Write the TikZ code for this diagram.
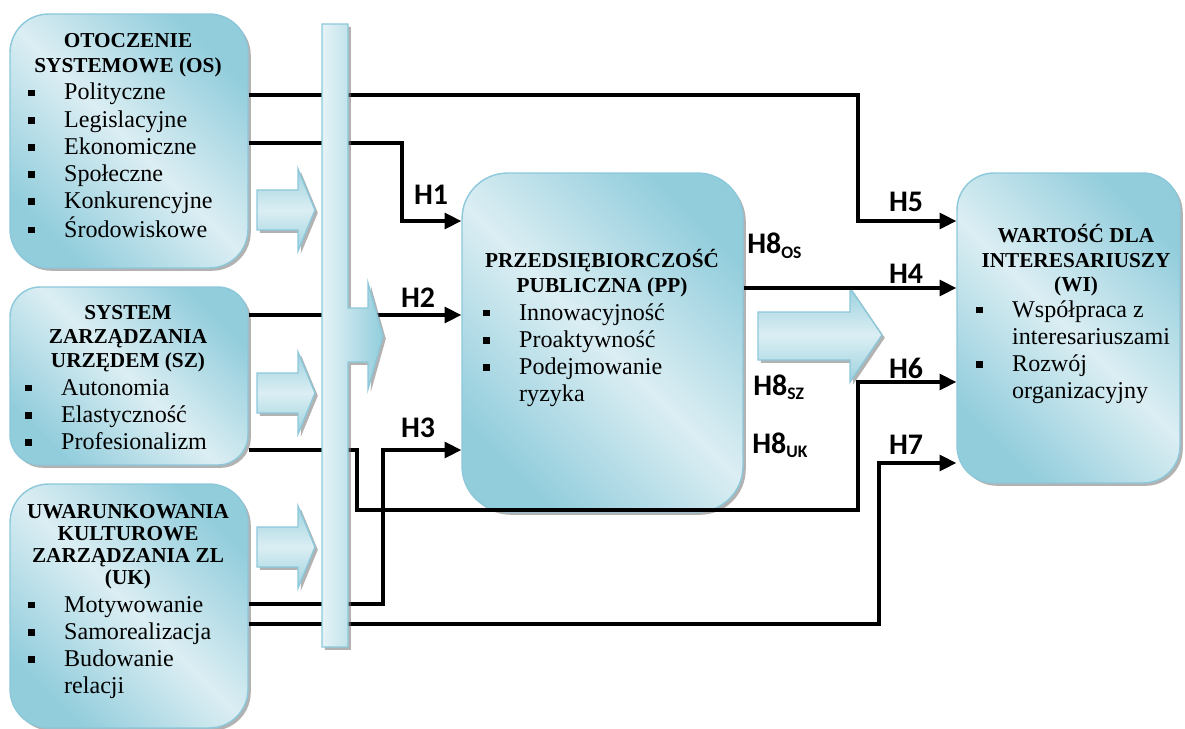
\documentclass[tikz,border=0pt]{standalone}
\usepackage{fontspec}
\setmainfont{Liberation Serif}
\newfontfamily\hfont{Carlito}
\usetikzlibrary{arrows.meta,shadows}
\definecolor{boxdark}{RGB}{146,205,220}
\definecolor{boxlight}{RGB}{219,238,243}
\definecolor{boxline}{RGB}{140,200,218}
\newcommand{\blt}{\makebox[20.4pt][l]{\rule[2pt]{3.9pt}{3.9pt}}}
\newcommand{\hdtab}[1]{\begin{tabular}[t]{@{}c@{}}#1\end{tabular}}
\newcommand{\lsttab}[1]{\begin{tabular}[t]{@{}l@{}l@{}}#1\end{tabular}}
\tikzset{
  >={Triangle[length=9.5pt,width=9pt]},
  shd/.style={drop shadow={shadow xshift=1.6pt,shadow yshift=-1.6pt,fill=black!55,opacity=0.55}},
  box/.style={draw=boxline,line width=0.8pt,shd,top color=boxdark,bottom color=boxdark,
    middle color=boxlight,shading angle=-45,inner sep=0pt},
  blk/.style={draw=boxline,line width=0.8pt,shd,top color=boxdark!90,bottom color=boxdark!90,
    middle color=boxlight},
  bar/.style={draw=boxline,line width=0.8pt,shd,left color=boxlight!70!white,right color=boxdark},
  hd/.style={font=\fontsize{12.1}{13.7}\selectfont\bfseries,inner sep=0pt,anchor=base},
  lst/.style={font=\fontsize{13.7}{15.4}\selectfont,inner sep=0pt,anchor=base west},
  hl/.style={font=\hfont\bfseries\fontsize{17}{19}\selectfont,inner sep=0pt,anchor=base},
  ln/.style={line width=1.9pt,->},
}
\newcommand{\sub}[1]{\raisebox{-2.5pt}{\fontsize{10}{10}\selectfont #1}}
\begin{document}
\begin{tikzpicture}[x=0.02cm,y=-0.02cm]
\useasboundingbox (0,0) rectangle (1185,729);
% boxes
\node[box,rounded corners=22pt,minimum width=4.76cm,minimum height=5.08cm] (os) at (129,141){};
\node[box,rounded corners=17pt,minimum width=4.76cm,minimum height=3.56cm] (sz) at (129,376){};
\node[box,rounded corners=22pt,minimum width=4.76cm,minimum height=4.88cm] (uk) at (129,606){};
\node[box,rounded corners=26pt,minimum width=5.62cm,minimum height=6.78cm] (pp) at (602.5,342.5){};
\node[box,rounded corners=21pt,minimum width=4.46cm,minimum height=6.2cm] (wi) at (1068.5,328){};
% texts
\node[hd] (osh) at (128,48){\hdtab{OTOCZENIE\\SYSTEMOWE (OS)}};
\node[lst] (osl) at (28,100){\lsttab{\blt&Polityczne\\\blt&Legislacyjne\\\blt&Ekonomiczne\\\blt&Społeczne\\\blt&Konkurencyjne\\\blt&Środowiskowe}};
\node[hd] (szh) at (128,319){\hdtab{SYSTEM\\ZARZĄDZANIA\\URZĘDEM (SZ)}};
\node[lst] (szl) at (25,395){\lsttab{\blt&Autonomia\\\blt&Elastyczność\\\blt&Profesionalizm}};
\node[hd] (ukh) at (128,518){\hdtab{UWARUNKOWANIA\\[-1pt]KULTUROWE\\[-1pt]ZARZĄDZANIA ZL\\[-1pt](UK)}};
\node[lst] (ukl) at (28,612){\lsttab{\blt&Motywowanie\\\blt&Samorealizacja\\\blt&Budowanie\\&relacji}};
\node[hd] (pph) at (602,268){\hdtab{PRZEDSIĘBIORCZOŚĆ\\PUBLICZNA (PP)}};
\node[lst] (ppl) at (483,320){\lsttab{\blt&Innowacyjność\\\blt&Proaktywność\\\blt&Podejmowanie\\&ryzyka}};
\node[hd] (wih) at (1076,243){\hdtab{WARTOŚĆ DLA\\INTERESARIUSZY\\(WI)}};
\node[lst] (wil) at (976,317){\lsttab{\blt&Współpraca z\\&interesariuszami\\\blt&Rozwój\\&organizacyjny}};
% block arrows
\foreach \ay in {210,393,547}
  \draw[blk] (257,\ay-20) -- (298,\ay-20) -- (298,\ay-41) -- (315,\ay) -- (298,\ay+41) -- (298,\ay+20) -- (257,\ay+20) -- cycle;
\draw[blk] (758,312) -- (850,312) -- (850,288) -- (882,335) -- (850,382) -- (850,360) -- (758,360) -- cycle;
% connectors
\draw[ln] (os.east |- 0,95) -- (858,95) |- (wi.west |- 0,221);
\draw[ln] (os.east |- 0,143) -- (402,143) |- (pp.west |- 0,221);
\draw[ln] (sz.east |- 0,315) -- (pp.west |- 0,315);
\draw[ln] (uk.east |- 0,604) -- (383,604) |- (pp.west |- 0,450);
\draw[ln] (pp.east |- 0,288) -- (wi.west |- 0,288);
\draw[ln] (sz.east |- 0,450) -- (357,450) |- (858,510) |- (wi.west |- 0,382);
\draw[ln] (uk.east |- 0,624) -- (879,624) |- (wi.west |- 0,463);
% bar
\draw[bar] (322,24) -- (348,24) -- (348,308) -- (368,308) -- (368,283) -- (383,336) -- (368,389) -- (368,362) -- (348,362) -- (348,647) -- (322,647) -- cycle;
% labels
\node[hl] (h1) at (431,205){H1};
\node[hl] (h2) at (418,307){H2};
\node[hl] (h3) at (418,437){H3};
\node[hl] (h5) at (906,212){H5};
\node[hl] (h4) at (906,283){H4};
\node[hl] (h6) at (906,378){H6};
\node[hl] (h7) at (906,454){H7};
\node[hl,anchor=base west] (h8os) at (747,254){H8\sub{OS}};
\node[hl,anchor=base west] (h8sz) at (753,395){H8\sub{SZ}};
\node[hl,anchor=base west] (h8uk) at (752,453){H8\sub{UK}};
\end{tikzpicture}
\end{document}
